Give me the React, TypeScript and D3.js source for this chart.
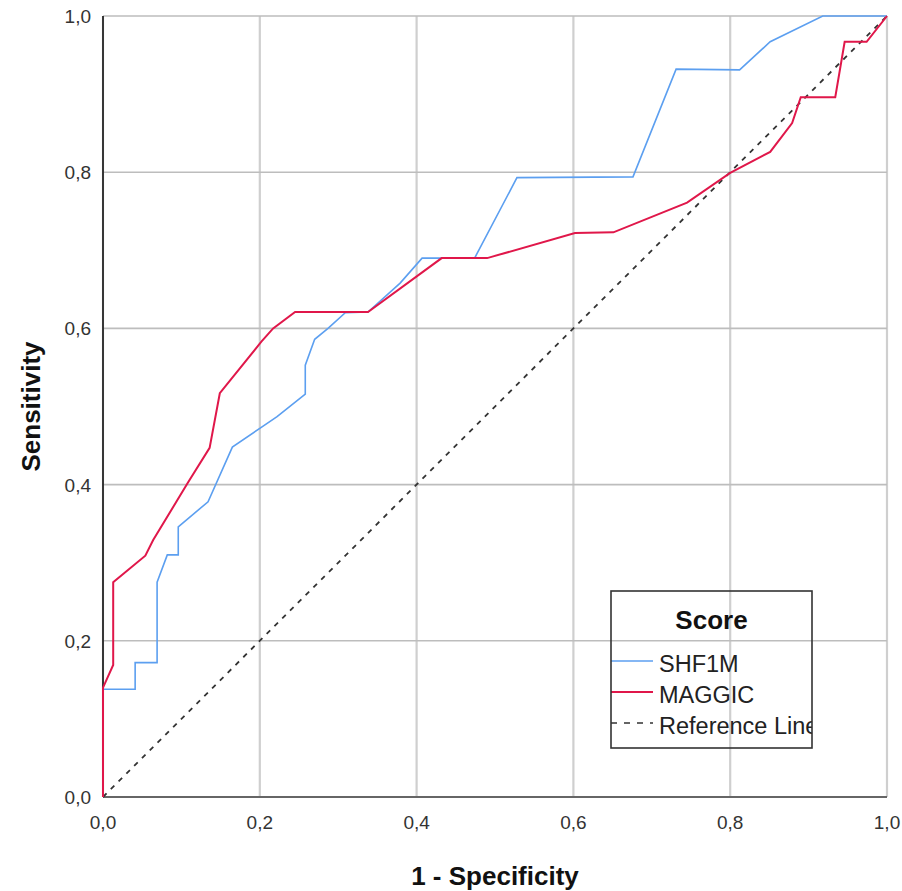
import React from 'react';
import * as d3 from 'd3';

// ROC curve points: 1 - specificity / sensitivity
const shfFpr = [0, 0, 0.041, 0.041, 0.069, 0.069, 0.082, 0.096, 0.096, 0.134, 0.165, 0.2, 0.222, 0.258, 0.258, 0.27, 0.287, 0.309, 0.338, 0.379, 0.407, 0.474, 0.528, 0.676, 0.731, 0.812, 0.851, 0.918, 1];
const shfTpr = [0, 0.138, 0.138, 0.172, 0.172, 0.275, 0.31, 0.31, 0.346, 0.378, 0.448, 0.472, 0.487, 0.516, 0.553, 0.586, 0.6, 0.62, 0.621, 0.658, 0.69, 0.69, 0.793, 0.794, 0.932, 0.931, 0.967, 1, 1];

const magFpr = [0, 0, 0.013, 0.013, 0.054, 0.064, 0.108, 0.136, 0.149, 0.202, 0.217, 0.245, 0.338, 0.432, 0.49, 0.602, 0.651, 0.745, 0.8, 0.851, 0.879, 0.89, 0.934, 0.946, 0.974, 1];
const magTpr = [0, 0.14, 0.169, 0.275, 0.309, 0.329, 0.402, 0.447, 0.517, 0.583, 0.6, 0.621, 0.621, 0.69, 0.69, 0.722, 0.723, 0.761, 0.799, 0.826, 0.863, 0.896, 0.896, 0.967, 0.967, 1];

const refFpr = [0, 1];
const refTpr = [0, 1];

const tickValues = [0, 0.2, 0.4, 0.6, 0.8, 1];
const legendTitle = 'Score';
const legendLabels = ['SHF1M', 'MAGGIC', 'Reference Line'];

const W = 902, H = 891;
const left = 103, right = 887, top = 16, bottom = 797;

const BLUE = '#5c9ff0';
const RED = '#e0174a';

const locale = d3.formatLocale({decimal: ',', thousands: '.', grouping: [3], currency: ['', '']});
const fmt = locale.format('.1f');

const App = () => {
    const x = d3.scaleLinear().domain([0, 1]).range([left, right]);
    const y = d3.scaleLinear().domain([0, 1]).range([bottom, top]);

    const line = d3.line<[number, number]>()
        .x(d => x(d[0]))
        .y(d => y(d[1]));

    const shf = shfFpr.map((v, i) => [v, shfTpr[i]] as [number, number]);
    const mag = magFpr.map((v, i) => [v, magTpr[i]] as [number, number]);
    const ref = refFpr.map((v, i) => [v, refTpr[i]] as [number, number]);

    // legend box
    const lx = 611, ly = 591, lw = 201, lh = 157;
    const rowY = [661, 692, 723];
    const legendStyles = [
        {stroke: BLUE, dash: undefined, w: 1.6},
        {stroke: RED, dash: undefined, w: 2},
        {stroke: '#333', dash: '6,7', w: 1.5},
    ];

    return (
        <svg width={W} height={H} style={{position: 'absolute', left: 0, top: 0, background: '#fff'}}
             fontFamily="'Liberation Sans', Arial, sans-serif">
            <defs>
                <clipPath id="legendClip">
                    <rect x={lx} y={ly} width={lw} height={lh}/>
                </clipPath>
            </defs>

            {/* grid */}
            {tickValues.map(t => (
                <line key={'gx' + t} x1={x(t)} x2={x(t)} y1={top} y2={bottom} stroke="#cfcfcf" strokeWidth={2.2}/>
            ))}
            {tickValues.map(t => (
                <line key={'gy' + t} x1={left} x2={right} y1={y(t)} y2={y(t)} stroke="#bdbdbd" strokeWidth={1.6}/>
            ))}

            {/* axes */}
            <line x1={left} x2={right} y1={bottom} y2={bottom} stroke="#666" strokeWidth={2}/>
            <line x1={left} x2={left} y1={top} y2={bottom} stroke="#111" strokeWidth={1.6}/>

            {/* tick labels */}
            {tickValues.map(t => (
                <text key={'tx' + t} x={x(t)} y={bottom + 32} textAnchor="middle" fontSize={19} fill="#333">{fmt(t)}</text>
            ))}
            {tickValues.map(t => (
                <text key={'ty' + t} x={left - 12} y={y(t) + 7} textAnchor="end" fontSize={19} fill="#333">{fmt(t)}</text>
            ))}

            {/* axis titles */}
            <text x={(left + right) / 2} y={885} textAnchor="middle" fontSize={26} fontWeight="bold" fill="#111">1 - Specificity</text>
            <text transform={`translate(40, ${(top + bottom) / 2}) rotate(-90)`} textAnchor="middle" fontSize={26}
                  fontWeight="bold" fill="#111">Sensitivity</text>

            {/* curves */}
            <path d={line(ref) || ''} fill="none" stroke="#333" strokeWidth={1.8} strokeDasharray="5,6"/>
            <path d={line(shf) || ''} fill="none" stroke={BLUE} strokeWidth={1.6}/>
            <path d={line(mag) || ''} fill="none" stroke={RED} strokeWidth={2}/>

            {/* legend */}
            <g clipPath="url(#legendClip)">
                <text x={lx + lw / 2} y={629} textAnchor="middle" fontSize={26} fontWeight="bold" fill="#111">{legendTitle}</text>
                {legendLabels.map((lab, i) => (
                    <g key={lab}>
                        <line x1={lx} x2={lx + 42} y1={rowY[i]} y2={rowY[i]} stroke={legendStyles[i].stroke}
                              strokeWidth={legendStyles[i].w} strokeDasharray={legendStyles[i].dash}/>
                        <text x={lx + 48} y={rowY[i] + 11} fontSize={23.5} fill="#222">{lab}</text>
                    </g>
                ))}
            </g>
            <rect x={lx} y={ly} width={lw} height={lh} fill="none" stroke="#333" strokeWidth={1.6}/>
        </svg>
    );
};

export default App;
